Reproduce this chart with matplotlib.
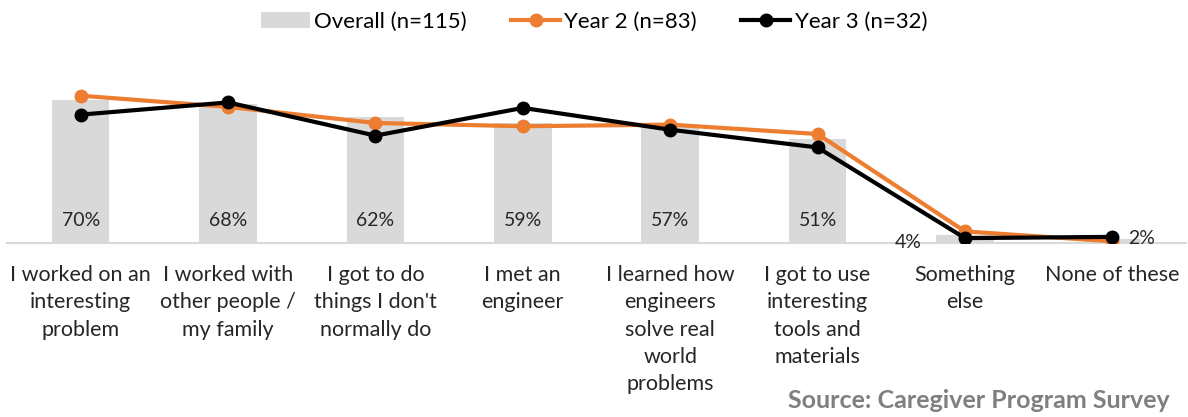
import matplotlib.pyplot as plt
import numpy as np
from matplotlib.patches import Patch
from matplotlib.lines import Line2D

plt.rcParams['font.family'] = ['Lato', 'DejaVu Sans']

categories = ["I worked on an\ninteresting\nproblem",
              "I worked with\nother people /\nmy family",
              "I got to do\nthings I don't\nnormally do",
              "I met an\nengineer",
              "I learned how\nengineers\nsolve real\nworld\nproblems",
              "I got to use\ninteresting\ntools and\nmaterials",
              "Something\nelse",
              "None of these"]
overall = [70, 68, 62, 59, 57, 51, 4, 2]
year2 = [72.3, 66.8, 58.9, 57.3, 58.1, 53.5, 5.7, 0.8]
year3 = [63.0, 69.0, 52.7, 66.3, 55.6, 46.9, 2.4, 3.0]
bar_labels = ["70%", "68%", "62%", "59%", "57%", "51%", "4%", "2%"]

gray = "#d9d9d9"
orange = "#ED7D31"

fig = plt.figure(figsize=(11.88, 4.17), dpi=100)
ax = fig.add_axes([7 / 1188, (417 - 243) / 417, 1179 / 1188, 163 / 417])

x = np.arange(len(categories))
ax.bar(x, overall, width=0.39, color=gray, zorder=1)
ax.plot(x, year2, color=orange, lw=3, marker='o', ms=9, zorder=3, solid_joinstyle='round')
ax.plot(x, year3, color='black', lw=3, marker='o', ms=9, zorder=4, solid_joinstyle='round')

# data labels
for i, lab in enumerate(bar_labels):
    if i < 6:
        ax.annotate(lab, (x[i], 0), xytext=(0, 16), textcoords='offset points',
                    ha='center', va='center', fontsize=14, color='#262626')
    elif i == 6:
        ax.annotate(lab, (x[i], 0), xytext=(-41, 0), textcoords='offset points',
                    ha='center', va='center', fontsize=14, color='#262626')
    else:
        ax.annotate(lab, (x[i], 0), xytext=(21, 3), textcoords='offset points',
                    ha='center', va='center', fontsize=14, color='#262626')

ax.set_xlim(-0.5, len(categories) - 0.5)
ax.set_ylim(0, 80)
ax.set_yticks([])
ax.set_xticks(x)
ax.set_xticklabels(categories, fontsize=15.5, color='#262626', linespacing=1.45)
ax.tick_params(axis='x', length=0, pad=16)
for s in ['top', 'right', 'left']:
    ax.spines[s].set_visible(False)
ax.spines['bottom'].set_color(gray)
ax.spines['bottom'].set_linewidth(1.5)

handles = [Patch(facecolor=gray, edgecolor='none'),
           Line2D([0], [0], color=orange, lw=3, marker='o', ms=9),
           Line2D([0], [0], color='black', lw=3, marker='o', ms=9)]
fig.legend(handles, ["Overall (n=115)", "Year 2 (n=83)", "Year 3 (n=32)"],
           loc='upper center', bbox_to_anchor=(0.5, 1.02), ncol=3, frameon=False,
           fontsize=16, handlelength=2.2, handletextpad=0.2, columnspacing=2.0)

fig.text(1170 / 1188, 1 - 401 / 417, "Source: Caregiver Program Survey", ha='right',
         va='center', fontsize=18, fontweight='bold', color='#7f7f7f')

fig.savefig("out.png", dpi=100)
